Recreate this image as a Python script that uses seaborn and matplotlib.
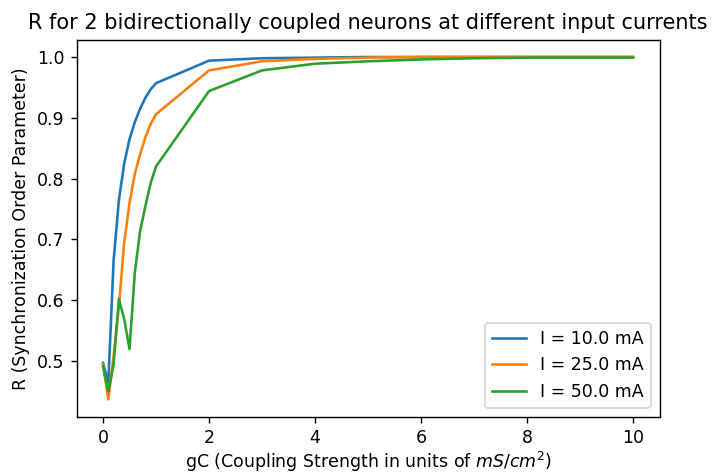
import numpy as np
import pandas as pd
import matplotlib
matplotlib.use("Agg")
import matplotlib.pyplot as plt
import seaborn as sns

# coupling strengths (mS/cm^2)
gc = [0.0, 0.1, 0.2, 0.3, 0.4, 0.5, 0.6, 0.7, 0.8, 0.9, 1.0,
      2.0, 3.0, 4.0, 5.0, 6.0, 7.0, 8.0, 9.0, 10.0]

# R values
r_i10 = [0.497, 0.465, 0.665, 0.765, 0.825, 0.865, 0.893, 0.915, 0.933, 0.947, 0.957,
         0.994, 0.998, 0.999, 1.000, 1.000, 1.000, 1.000, 1.000, 1.000]
r_i25 = [0.495, 0.437, 0.508, 0.590, 0.695, 0.760, 0.808, 0.840, 0.868, 0.890, 0.906,
         0.978, 0.993, 0.997, 0.999, 1.000, 1.000, 1.000, 1.000, 1.000]
r_i50 = [0.492, 0.450, 0.495, 0.602, 0.569, 0.520, 0.645, 0.714, 0.755, 0.793, 0.820,
         0.944, 0.978, 0.989, 0.993, 0.996, 0.998, 0.999, 0.999, 0.999]

currents = ["I = 10.0 mA", "I = 25.0 mA", "I = 50.0 mA"]

df = pd.DataFrame({
    "gC": gc * 3,
    "R": r_i10 + r_i25 + r_i50,
    "current": [currents[0]] * len(gc) + [currents[1]] * len(gc) + [currents[2]] * len(gc),
})

fig = plt.figure(figsize=(713 / 125, 475 / 125), dpi=125)
ax = fig.add_axes([0.1073, 0.123, 0.8177, 0.793])

sns.lineplot(data=df, x="gC", y="R", hue="current", palette="tab10",
             linewidth=1.5, ax=ax)

ax.set_title("R for 2 bidirectionally coupled neurons at different input currents")
ax.set_xlabel("gC (Coupling Strength in units of $mS/cm^2$)", labelpad=2)
ax.set_ylabel("R (Synchronization Order Parameter)")
ax.set_xticks([0, 2, 4, 6, 8, 10])
ax.legend(loc="lower right", fontsize=10)

fig.savefig("out.png", dpi=125)
